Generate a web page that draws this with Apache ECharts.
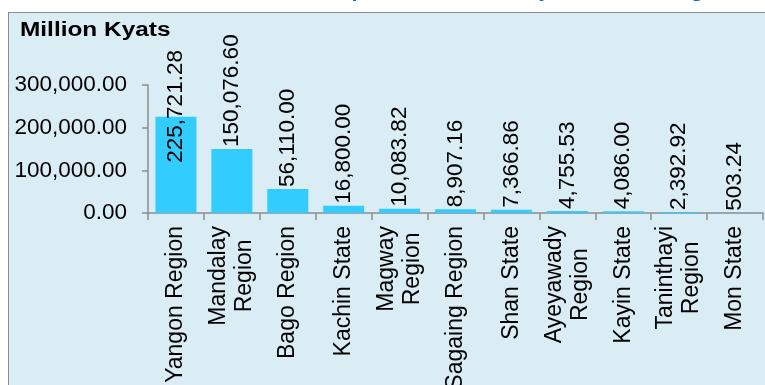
<!DOCTYPE html>
<html>
<head>
<meta charset="utf-8">
<script src="https://cdn.jsdelivr.net/npm/echarts@6/dist/echarts.min.js"></script>
<style>
  html, body { margin: 0; padding: 0; background: #ffffff; }
  #wrap { position: relative; width: 765px; height: 385px; overflow: hidden; }
  #panel {
    position: absolute; left: 8px; top: 12px; width: 800px; height: 400px;
    background: #dbedf4; border-left: 1.5px solid #8c8c8c; border-top: 1.5px solid #8c8c8c;
  }
  #chart { position: absolute; left: 0; top: 0; width: 765px; height: 385px; }
</style>
</head>
<body>
<div id="wrap">
  <div id="panel"></div>
  <div id="chart"></div>
</div>
<script>
// Regions and states, in descending order of amount
const categories = [
  'Yangon Region', 'Mandalay\nRegion', 'Bago Region', 'Kachin State', 'Magway\nRegion',
  'Sagaing Region', 'Shan State', 'Ayeyawady\nRegion', 'Kayin State', 'Taninthayi\nRegion', 'Mon State'
];
// Amounts in million kyats
const values = [225721.28, 150076.60, 56110.00, 16800.00, 10083.82, 8907.16, 7366.86, 4755.53, 4086.00, 2392.92, 503.24];
// Value axis ticks
const yTicks = [0, 100000, 200000, 300000];

const FONT = '"Liberation Sans", Arial, Helvetica, sans-serif';
const fmt = v => Number(v).toLocaleString('en-US', { minimumFractionDigits: 2, maximumFractionDigits: 2 });

const chart = echarts.init(document.getElementById('chart'), null, { renderer: 'canvas' });

// the tallest bar's label would run off the top, so it is tucked down into the bar
// (label offset is in the rotated frame: negative x moves it downwards)
const barData = values.map((v, i) => i === 0 ? { value: v, label: { offset: [-48, 0] } } : v);

chart.setOption({
  backgroundColor: 'transparent',
  animation: false,
  graphic: [
    {
      type: 'text', x: 530, y: -10,
      style: { text: 'Capital Investment by State and Region', font: 'bold 22px ' + FONT, fill: '#0070c0', align: 'center', verticalAlign: 'middle' }
    },
    {
      type: 'text', x: 20, y: 30, scaleX: 1.22,
      style: { text: 'Million Kyats', font: 'bold 20px ' + FONT, fill: '#000', align: 'left', verticalAlign: 'middle' }
    }
  ],
  grid: { left: 148, right: 2, top: 85, bottom: 172, containLabel: false, outerBoundsMode: 'none' },
  xAxis: {
    type: 'category',
    data: categories,
    axisLine: { lineStyle: { color: '#8c8c8c', width: 1.5 } },
    axisTick: { show: true, length: 7, interval: 0, lineStyle: { color: '#8c8c8c', width: 1.5 } },
    axisLabel: {
      interval: 0, rotate: 90, margin: 13,
      color: '#000', fontSize: 23, fontFamily: FONT,
      formatter: s => s.split('\n').map(l => '{c|' + l + '}').join('\n'),
      rich: { c: { align: 'center', fontSize: 23, fontFamily: FONT, lineHeight: 26, color: '#000' } }
    }
  },
  yAxis: {
    type: 'value',
    min: yTicks[0], max: yTicks[yTicks.length - 1], interval: yTicks[1] - yTicks[0],
    axisLine: { show: true, lineStyle: { color: '#8c8c8c', width: 1.5 } },
    axisTick: { show: true, length: 6, lineStyle: { color: '#8c8c8c', width: 1.5 } },
    splitLine: { show: false },
    axisLabel: { margin: 21, color: '#000', fontSize: 22.5, fontFamily: FONT, formatter: v => fmt(v) }
  },
  series: [{
    type: 'bar',
    data: barData,
    barWidth: 41,
    itemStyle: { color: '#33ccff' },
    label: {
      show: true, position: 'top', rotate: 90, distance: 2,
      align: 'left', verticalAlign: 'middle',
      color: '#000', fontSize: 22.5, fontFamily: FONT,
      formatter: p => fmt(p.value)
    }
  }]
});
</script>
</body>
</html>
